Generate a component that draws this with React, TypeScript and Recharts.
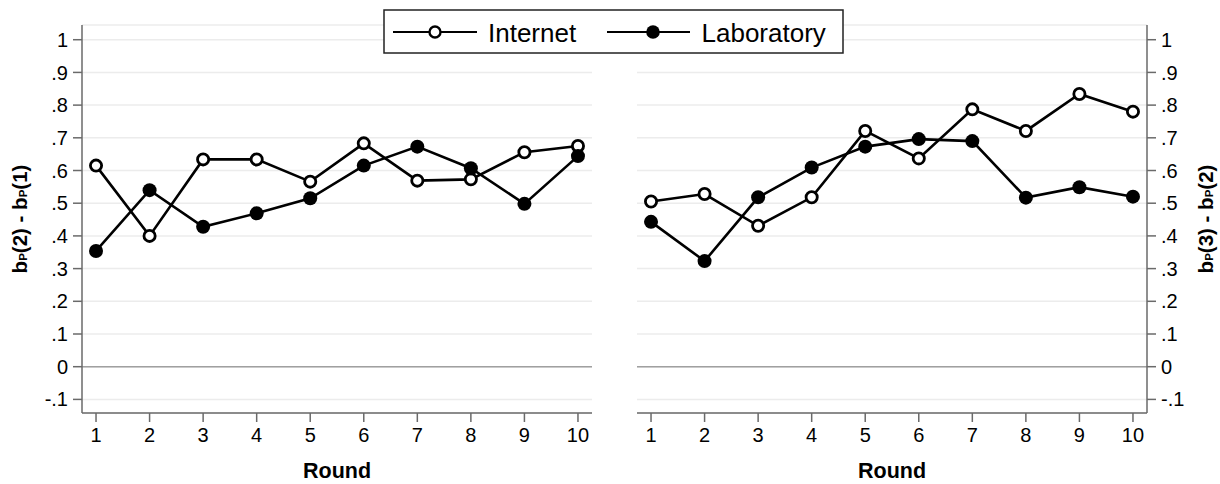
import React from 'react';
import { LineChart, Line, XAxis, YAxis, CartesianGrid, ReferenceLine, Label } from 'recharts';

const rounds = [1, 2, 3, 4, 5, 6, 7, 8, 9, 10];
const leftInternet = [0.615, 0.4, 0.634, 0.634, 0.566, 0.683, 0.569, 0.573, 0.656, 0.675];
const leftLab = [0.354, 0.54, 0.428, 0.469, 0.515, 0.615, 0.673, 0.607, 0.498, 0.644];
const rightInternet = [0.505, 0.528, 0.431, 0.518, 0.721, 0.637, 0.787, 0.721, 0.834, 0.78];
const rightLab = [0.443, 0.323, 0.518, 0.609, 0.673, 0.696, 0.69, 0.517, 0.549, 0.52];
const yTicks = [-0.1, 0, 0.1, 0.2, 0.3, 0.4, 0.5, 0.6, 0.7, 0.8, 0.9, 1];
const seriesNames = ['Internet', 'Laboratory'];
const xLabel = 'Round';

const FONT = '"Liberation Sans", Arial, Helvetica, sans-serif';
const Y_DOMAIN: [number, number] = [-0.1416, 1.045];
const X_DOMAIN: [number, number] = [0.738, 10.262];

const fmtY = (v: number) => {
  if (Math.abs(v) < 1e-9) return '0';
  if (Math.abs(v - 1) < 1e-9) return '1';
  return v.toFixed(1).replace(/^(-?)0\./, '$1.');
};

const leftData = rounds.map((r, i) => ({ round: r, internet: leftInternet[i], lab: leftLab[i] }));
const rightData = rounds.map((r, i) => ({ round: r, internet: rightInternet[i], lab: rightLab[i] }));

const YLab = ({ viewBox, num, side }: any) => {
  const { x, y, width, height } = viewBox;
  const cy = y + height / 2;
  const bx = side === 'left' ? x + 5 : x + width + 6;
  return (
    <text
      x={bx}
      y={cy}
      transform={`rotate(-90, ${bx}, ${cy})`}
      textAnchor="middle"
      fontFamily={FONT}
      fontWeight="bold"
      fontSize={20.5}
      fill="#000"
    >
      b<tspan fontSize={11.5}>P</tspan>({num[0]}) - b<tspan fontSize={11.5}>P</tspan>({num[1]})
    </text>
  );
};

const Panel = ({ data, side, nums }: any) => {
  const isLeft = side === 'left';
  return (
    <LineChart
      width={isLeft ? 600 : 620}
      height={484}
      data={data}
      margin={isLeft ? { top: 25, right: 8, bottom: 0, left: 22 } : { top: 25, right: 13, bottom: 0, left: 37 }}
    >
      <CartesianGrid horizontal vertical={false} stroke="#ececec" strokeWidth={1.5} />
      <ReferenceLine y={0} stroke="#a0a0a0" strokeWidth={1.5} ifOverflow="extendDomain" />
      <XAxis
        dataKey="round"
        type="number"
        domain={X_DOMAIN}
        ticks={rounds}
        allowDataOverflow
        height={71}
        stroke="#6a6a6a"
        strokeWidth={1.5}
        tickSize={9}
        tickMargin={6}
        tick={{ fill: '#000', fontSize: 20, fontFamily: FONT }}
      >
        <Label
          value={xLabel}
          position="insideBottom"
          offset={6}
          style={{ fontWeight: 'bold', fontSize: 21.5, fontFamily: FONT, fill: '#000' }}
        />
      </XAxis>
      <YAxis
        type="number"
        orientation={isLeft ? 'left' : 'right'}
        domain={Y_DOMAIN}
        ticks={yTicks}
        allowDataOverflow
        width={60}
        stroke="#6a6a6a"
        strokeWidth={1.5}
        tickSize={9}
        tickMargin={5}
        tickFormatter={fmtY}
        tick={{ fill: '#000', fontSize: 20, fontFamily: FONT }}
      >
        <Label content={(p: any) => <YLab {...p} num={nums} side={side} />} />
      </YAxis>
      <Line
        type="linear"
        dataKey="internet"
        name={seriesNames[0]}
        stroke="#000"
        strokeWidth={2.6}
        dot={{ r: 5.6, fill: '#fff', stroke: '#000', strokeWidth: 2.8 }}
        isAnimationActive={false}
      />
      <Line
        type="linear"
        dataKey="lab"
        name={seriesNames[1]}
        stroke="#000"
        strokeWidth={2.6}
        dot={{ r: 7, fill: '#000', stroke: '#000', strokeWidth: 0 }}
        isAnimationActive={false}
      />
    </LineChart>
  );
};

const LegendBox = () => (
  <svg width={462} height={46} style={{ position: 'absolute', left: 383, top: 9 }}>
    <rect x={1} y={1} width={459} height={43} fill="#fff" stroke="#222" strokeWidth={1.5} />
    <line x1={10} x2={94} y1={23} y2={23} stroke="#000" strokeWidth={2.2} />
    <circle cx={52} cy={23} r={5.5} fill="#fff" stroke="#000" strokeWidth={2.4} />
    <text x={105} y={32.5} fontFamily={FONT} fontSize={26} fill="#000">{seriesNames[0]}</text>
    <line x1={224} x2={307} y1={23} y2={23} stroke="#000" strokeWidth={2.2} />
    <circle cx={270} cy={23} r={6.8} fill="#000" />
    <text x={318.5} y={32.5} fontFamily={FONT} fontSize={26} fill="#000">{seriesNames[1]}</text>
  </svg>
);

export default function App() {
  return (
    <div style={{ position: 'absolute', left: 0, top: 0, width: 1220, height: 484, background: '#fff', overflow: 'hidden' }}>
      <div style={{ position: 'absolute', left: 0, top: 0 }}>
        <Panel data={leftData} side="left" nums={['2', '1']} />
      </div>
      <div style={{ position: 'absolute', left: 600, top: 0 }}>
        <Panel data={rightData} side="right" nums={['3', '2']} />
      </div>
      <LegendBox />
    </div>
  );
}
